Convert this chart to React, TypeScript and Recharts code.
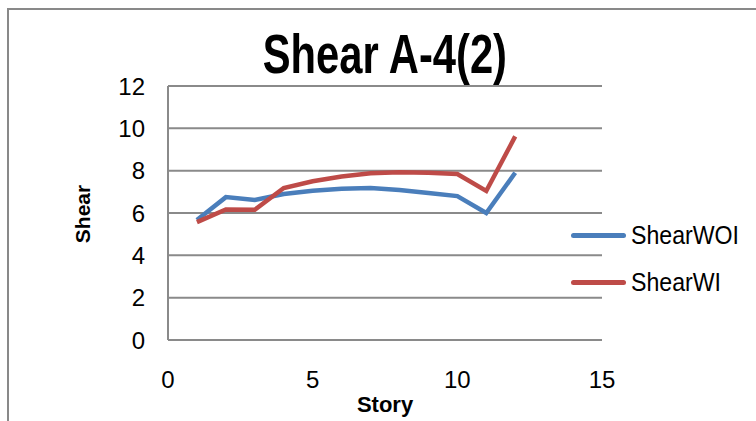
import { LineChart, Line, XAxis, YAxis, CartesianGrid } from "recharts";

const stories = [1, 2, 3, 4, 5, 6, 7, 8, 9, 10, 11, 12];
const shearWOI = [5.67, 6.75, 6.62, 6.9, 7.05, 7.15, 7.18, 7.09, 6.95, 6.8, 6.0, 7.9];
const shearWI = [5.57, 6.17, 6.15, 7.18, 7.5, 7.72, 7.88, 7.93, 7.9, 7.84, 7.04, 9.62];
const xTicks = [0, 5, 10, 15];
const yTicks = [0, 2, 4, 6, 8, 10, 12];

const seriesMeta = [
  { key: "ShearWOI", color: "#4A7EBB" },
  { key: "ShearWI", color: "#BE4B48" },
];

const data = stories.map((s, i) => ({
  story: s,
  ShearWOI: shearWOI[i],
  ShearWI: shearWI[i],
}));

const FONT = "'Liberation Sans', Arial, sans-serif";
const GRID = "#8a8a8a";

// plain legend placed to the right of the plot
const LegendBox = () => (
  <div style={{ position: "absolute", left: 571, top: 212, fontFamily: FONT, fontSize: 26, color: "#000" }}>
    {seriesMeta.map((s) => (
      <div key={s.key} style={{ display: "flex", alignItems: "center", height: 47 }}>
        <span style={{ display: "inline-block", width: 55, height: 5, borderRadius: 3, background: s.color, marginRight: 5 }} />
        <span style={{ display: "inline-block", transform: "scaleX(0.89)", transformOrigin: "left center", whiteSpace: "nowrap" }}>
          {s.key}
        </span>
      </div>
    ))}
  </div>
);

export default function App() {
  return (
    <div style={{ position: "fixed", left: 0, top: 0, width: 756, height: 421, background: "#fff", overflow: "hidden", fontFamily: FONT }}>
      <div style={{ position: "absolute", left: 7, top: 8, width: 800, height: 500, border: "2px solid #898989" }} />
      <div style={{ position: "absolute", left: 168, width: 434, top: 22, textAlign: "center", fontSize: 56, fontWeight: "bold", lineHeight: "64px" }}>
        <span style={{ display: "inline-block", transform: "scaleX(0.745)", transformOrigin: "center", whiteSpace: "nowrap" }}>
          Shear A-4(2)
        </span>
      </div>
      <div style={{ position: "absolute", left: 168, width: 434, top: 392, textAlign: "center", fontSize: 22, fontWeight: "bold", lineHeight: "26px" }}>
        Story
      </div>
      <div style={{ position: "absolute", left: 83, top: 214, transform: "translate(-50%, -50%) rotate(-90deg)", fontSize: 21, fontWeight: "bold", whiteSpace: "nowrap" }}>
        Shear
      </div>
      <div style={{ position: "absolute", left: 0, top: 0 }}>
        <LineChart width={756} height={421} data={data} margin={{ top: 86, right: 154, bottom: 51, left: 108 }}>
          <CartesianGrid horizontal vertical={false} stroke={GRID} strokeWidth={2} />
          <XAxis
            type="number"
            dataKey="story"
            domain={[0, 15]}
            ticks={xTicks}
            height={30}
            tickSize={0}
            tickMargin={31}
            axisLine={{ stroke: GRID, strokeWidth: 2 }}
            tick={{ fill: "#000", fontSize: 24, fontFamily: FONT }}
          />
          <YAxis
            type="number"
            domain={[0, 12]}
            ticks={yTicks}
            width={60}
            tickSize={0}
            tickMargin={23}
            axisLine={{ stroke: GRID, strokeWidth: 2 }}
            tick={{ fill: "#000", fontSize: 24, fontFamily: FONT }}
          />
          {seriesMeta.map((s) => (
            <Line
              key={s.key}
              dataKey={s.key}
              stroke={s.color}
              strokeWidth={4.5}
              dot={false}
              isAnimationActive={false}
              strokeLinejoin="miter"
            />
          ))}
        </LineChart>
      </div>
      <LegendBox />
    </div>
  );
}
